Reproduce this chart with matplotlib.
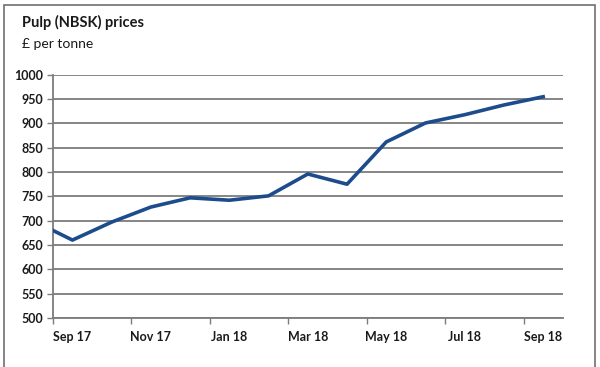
"""Pulp (NBSK) prices, £ per tonne - Excel-style line chart."""

import matplotlib

matplotlib.use("Agg")
import matplotlib.pyplot as plt
from matplotlib.patches import Rectangle

# ─── data ────────────────────────────────────────────────────────────────────

months = ["Aug 17", "Sep 17", "Oct 17", "Nov 17", "Dec 17", "Jan 18", "Feb 18",
          "Mar 18", "Apr 18", "May 18", "Jun 18", "Jul 18", "Aug 18", "Sep 18"]
prices = [700, 660, 697, 728, 747, 742, 751, 796, 775, 862, 901, 918, 938, 955]

tick_labels = ["Sep 17", "Nov 17", "Jan 18", "Mar 18", "May 18", "Jul 18", "Sep 18"]
y_ticks = list(range(500, 1001, 50))

_LINE = "#1d4c8c"
_GRID = "#7c7c7c"
_TEXT = "#1a1a1a"

plt.rcParams["font.family"] = ["Lato", "DejaVu Sans"]

fig = plt.figure(figsize=(6.0, 3.67), dpi=100)
fig.patch.set_facecolor("white")
ax = fig.add_axes([0.088, 0.134, 0.85, 0.662])

# month index: Sep 17 = 0
x = [i - 1 for i in range(len(months))]
ax.plot(x, prices, color=_LINE, lw=2.6, solid_joinstyle="round", zorder=3)

ax.set_xlim(-0.5, 12.5)
ax.set_ylim(500, 1000)
ax.set_yticks(y_ticks)
ax.set_yticklabels([str(v) for v in y_ticks])
ax.yaxis.grid(True, color=_GRID, lw=1.3)
ax.set_axisbelow(True)

# ticks between categories, labels centred on the months
ax.set_xticks([i - 0.5 for i in range(0, 13, 2)])
ax.set_xticklabels([])
for i, lab in enumerate(tick_labels):
    ax.text(i * 2, -0.055, lab, transform=ax.get_xaxis_transform(),
            ha="center", va="top", fontsize=9, fontweight="bold", color=_TEXT)

for side in ("top", "right"):
    ax.spines[side].set_visible(False)
for side in ("left", "bottom"):
    ax.spines[side].set_color(_GRID)
    ax.spines[side].set_linewidth(1.3)
ax.tick_params(axis="both", colors=_GRID, length=4, width=1.0)
ax.tick_params(axis="y", labelcolor=_TEXT, labelsize=9, pad=3)
for t in ax.get_yticklabels():
    t.set_fontweight("bold")

fig.text(0.037, 0.94, "Pulp (NBSK) prices", fontsize=10.5, fontweight="bold",
         color=_TEXT, va="center")
fig.text(0.037, 0.88, "£ per tonne", fontsize=10, color=_TEXT, va="center")

# outer frame
fig.patches.append(Rectangle((0.007, -0.05), 0.985, 1.036, transform=fig.transFigure,
                             fill=False, edgecolor="#707070", lw=1.2))

fig.savefig("out.png", dpi=100, facecolor="white")
